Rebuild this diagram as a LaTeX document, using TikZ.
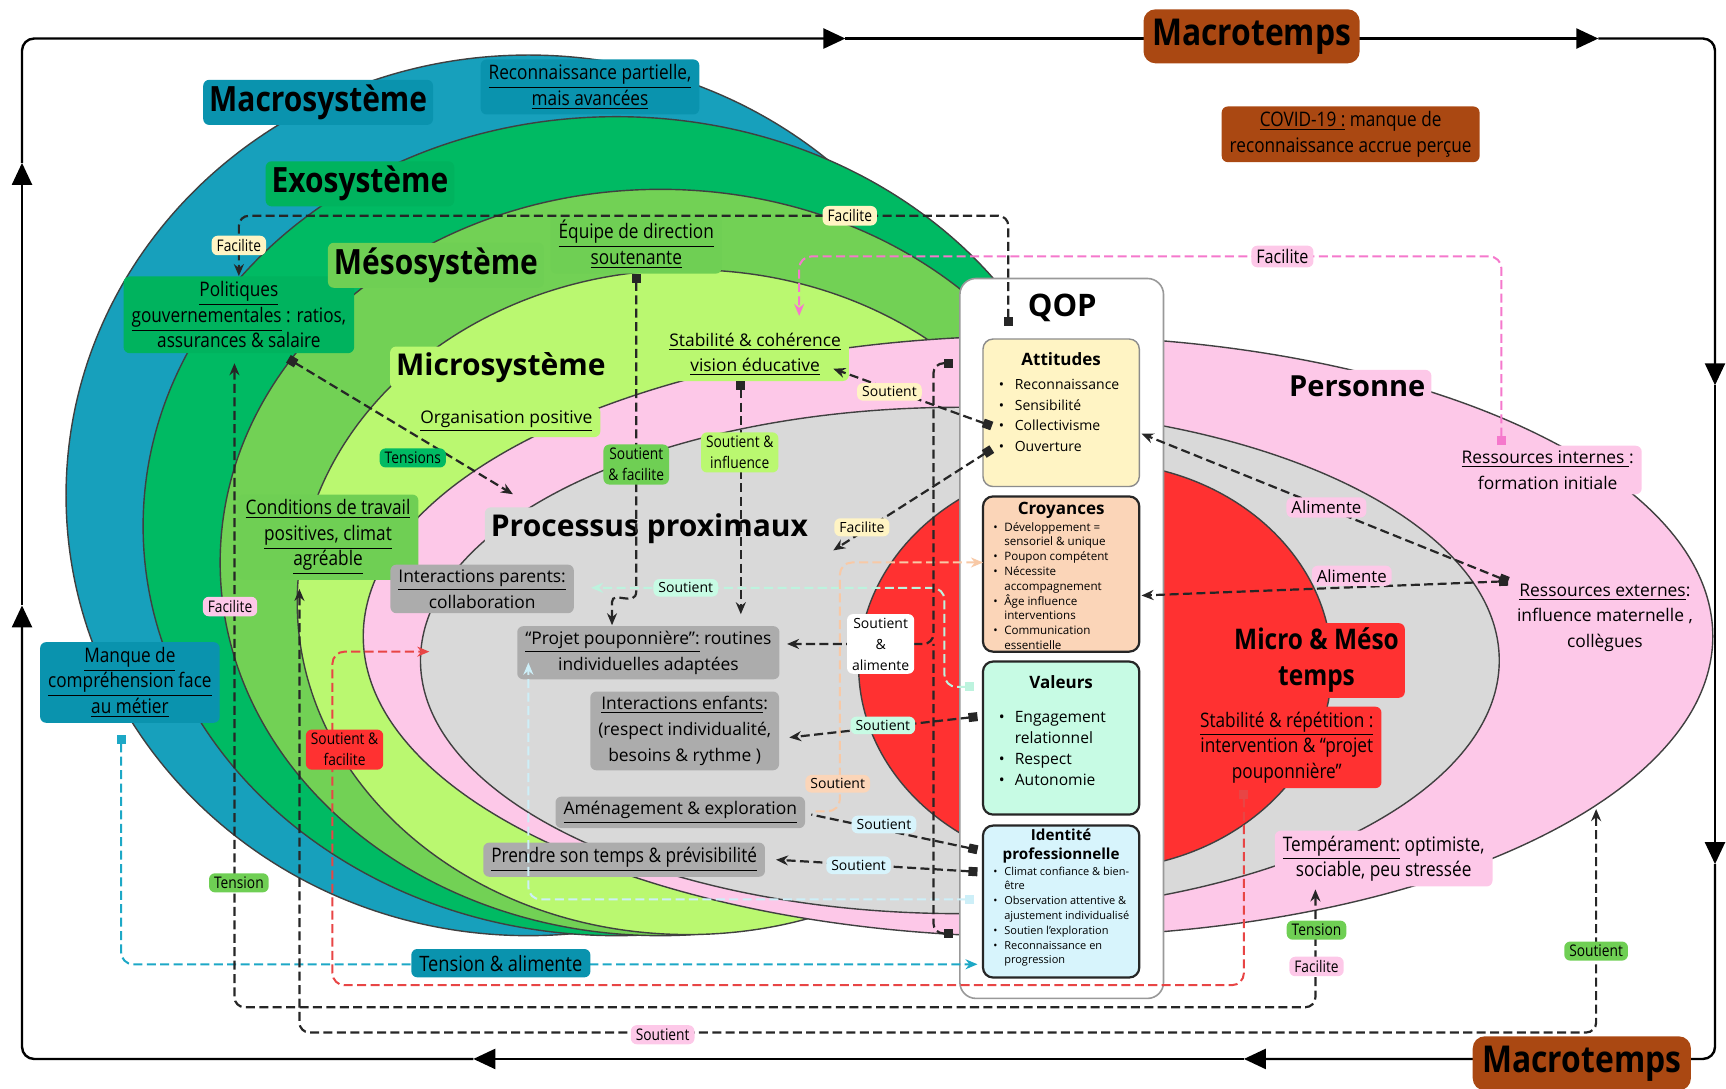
\documentclass[tikz,border=0pt]{standalone}
\usepackage{fontspec}
\setmainfont{Open Sans}
\newfontfamily\condf[FakeStretch=0.86]{Open Sans}
\usetikzlibrary{arrows.meta}
\definecolor{tealR}{HTML}{17A0BC}
\definecolor{tealD}{HTML}{0A93AE}
\definecolor{tealLn}{HTML}{1DA8C6}
\definecolor{exoG}{HTML}{00BA63}
\definecolor{exoL}{HTML}{00B35E}
\definecolor{mesoG}{HTML}{72D155}
\definecolor{mesoL}{HTML}{6FCF54}
\definecolor{limeG}{HTML}{BAF870}
\definecolor{pinkP}{HTML}{FDC8E8}
\definecolor{grayC}{HTML}{D9D9D9}
\definecolor{grayL}{HTML}{ACACAC}
\definecolor{redC}{HTML}{FF3131}
\definecolor{redLn}{HTML}{E84545}
\definecolor{yel}{HTML}{FFF4C4}
\definecolor{peach}{HTML}{FBD5B8}
\definecolor{peachLn}{HTML}{F8C9A6}
\definecolor{mint}{HTML}{C7FBE4}
\definecolor{mintLn}{HTML}{BDF3DE}
\definecolor{lblue}{HTML}{D7F4FC}
\definecolor{lblueLn}{HTML}{CDEFF8}
\definecolor{brownM}{HTML}{AA4812}
\definecolor{pinkH}{HTML}{F578CC}
\newcommand{\myb}[1]{\makebox[#1][l]{\textbullet}}
\newcommand{\myi}[1]{\hspace*{#1}}
\tikzset{
  ring/.style={draw=black!75, line width=0.7pt},
  box/.style={rounded corners=3pt, inner xsep=4pt, inner ysep=2.5pt, align=center, text=black},
  ttl/.style={box, font=\fontsize{15}{18}\selectfont\bfseries, inner xsep=3pt, inner ysep=3pt},
  ttlc/.style={box, font=\condf\fontsize{17.4}{20}\selectfont\bfseries, inner xsep=3pt, inner ysep=2.5pt},
  med/.style={box, font=\fontsize{8.7}{12.8}\selectfont},
  medc/.style={box, font=\condf\fontsize{10}{12.8}\selectfont},
  sml/.style={box, font=\fontsize{7}{10.5}\selectfont, inner xsep=2.5pt, inner ysep=1.8pt},
  smlc/.style={box, font=\condf\fontsize{8}{10.5}\selectfont, inner xsep=2.5pt, inner ysep=1.8pt},
  frame/.style={draw=black, line width=1.2pt, rounded corners=6pt, -{Triangle[length=11pt,width=10pt]}},
  conn/.style={draw=black!85, line width=1.1pt, dash pattern=on 4.5pt off 2.2pt, rounded corners=5pt},
  pale/.style={line width=1pt, dash pattern=on 4.5pt off 2.2pt, rounded corners=6pt},
  sqar/.style={arrows={Square[length=4.5pt,width=4.5pt]-Stealth[length=6pt,width=5pt]}},
  sqonly/.style={arrows={Square[length=4.5pt,width=4.5pt]-}},
  arar/.style={arrows={Stealth[length=6pt,width=5pt]-Stealth[length=6pt,width=5pt]}},
  onlyar/.style={arrows={-Stealth[length=6pt,width=5pt]}},
  qbox/.style={draw=black!85, line width=1.1pt, rounded corners=5pt, minimum width=78.1pt, inner sep=0pt},
  qttl/.style={font=\fontsize{8.5}{10}\selectfont\bfseries, inner sep=0pt},
  qlist/.style={anchor=north west, inner sep=0pt, align=left}
}
\begin{document}
\begin{tikzpicture}[x=0.55pt,y=-0.55pt]
\useasboundingbox (0,0) rectangle (1568,989);
% ---------- nested spheres
\filldraw[ring, fill=tealR] (480,450) ellipse [x radius=420, y radius=400];
\filldraw[ring, fill=exoG] (560,478) ellipse [x radius=430, y radius=372];
\filldraw[ring, fill=mesoG] (600,511) ellipse [x radius=400, y radius=339];
\filldraw[ring, fill=limeG] (625,547) ellipse [x radius=355, y radius=302];
\filldraw[ring, fill=pinkP] (943,578) ellipse [x radius=613, y radius=273];
\filldraw[ring, fill=grayC] (872,600) ellipse [x radius=490, y radius=230];
\filldraw[ring, fill=redC] (995,605) ellipse [x radius=215, y radius=185];
% ---------- time frame
\draw[frame] (430,962) -- (20,962) -- (20,550);
\draw[frame] (20,550) -- (20,148);
\draw[frame] (20,148) -- (20,35) -- (768,35);
\draw[frame] (768,35) -- (1452,35);
\draw[frame] (1452,35) -- (1558,35) -- (1558,350);
\draw[frame] (1558,350) -- (1558,785);
\draw[frame] (1558,785) -- (1558,962) -- (1130,962);
\draw[frame] (1130,962) -- (430,962);
\node[ttlc, fill=brownM, font=\condf\fontsize{18.5}{20}\selectfont\bfseries, minimum width=108pt, minimum height=27pt, rounded corners=6pt] (mtop) at (1137,33) {Macrotemps};
\node[ttlc, fill=brownM, font=\condf\fontsize{18.5}{20}\selectfont\bfseries, minimum width=109pt, minimum height=27pt, rounded corners=6pt] (mbot) at (1437,966) {Macrotemps};
% ---------- QOP
\node[draw=black!40, fill=white, rounded corners=8pt, line width=0.8pt, minimum width=101.75pt, minimum height=359.7pt] (qop) at (964.5,580) {};
\node[font=\fontsize{15.5}{18}\selectfont\bfseries] (qopt) at (965,280) {QOP};
\node[qbox, draw=black!45, line width=0.7pt, fill=yel, minimum height=73.7pt] (att) at (964,375) {};
\node[qbox, fill=peach, minimum height=77.55pt] (cro) at (964,521.5) {};
\node[qbox, fill=mint, minimum height=76.45pt] (val) at (964,670.5) {};
\node[qbox, fill=lblue, minimum height=75.9pt] (idp) at (964,819) {};
\node[qttl] (attT) at (964,326) {Attitudes};
\node[qttl] (croT) at (964,464) {Croyances};
\node[qttl] (valT) at (964,620) {Valeurs};
\node[qttl, font=\fontsize{7.6}{9.3}\selectfont\bfseries, align=center] (idpT) at (964,768.5) {Identité\\professionnelle};
\node[qlist, font=\fontsize{7}{10.4}\selectfont] (attL) at (907,344) {\myb{8pt}Reconnaissance\\\myb{8pt}Sensibilité\\\myb{8pt}Collectivisme\\\myb{8pt}Ouverture};
\node[qlist, font=\fontsize{5.8}{7.4}\selectfont] (croL) at (902,474) {\myb{5.5pt}Développement =\\\myi{5.5pt}sensoriel \& unique\\\myb{5.5pt}Poupon compétent\\\myb{5.5pt}Nécessite\\\myi{5.5pt}accompagnement\\\myb{5.5pt}Âge influence\\\myi{5.5pt}interventions\\\myb{5.5pt}Communication\\\myi{5.5pt}essentielle};
\node[qlist, font=\fontsize{7.8}{10.5}\selectfont] (valL) at (907,646) {\myb{8pt}Engagement\\\myi{8pt}relationnel\\\myb{8pt}Respect\\\myb{8pt}Autonomie};
\node[qlist, font=\fontsize{5.5}{7.4}\selectfont] (idpL) at (902,787) {\myb{5.5pt}Climat confiance \& bien-\\\myi{5.5pt}être\\\myb{5.5pt}Observation attentive \&\\\myi{5.5pt}ajustement individualisé\\\myb{5.5pt}Soutien l'exploration\\\myb{5.5pt}Reconnaissance en\\\myi{5.5pt}progression};
% ---------- main labels
\node[ttlc, fill=tealD] (macro) at (289,93) {Macrosystème};
\node[medc, fill=tealD] (recon) at (536,79) {\underline{Reconnaissance partielle,}\\\underline{mais avancées}};
\node[ttlc, fill=exoL] (exo) at (327,167) {Exosystème};
\node[medc, fill=exoL] (polit) at (217,286) {\underline{Politiques}\\\underline{gouvernementales} : ratios,\\assurances \& salaire};
\node[medc, fill=mesoL] (equipe) at (578,222) {\underline{Équipe de direction}\\\underline{soutenante}};
\node[ttlc, fill=mesoL] (meso) at (396,241) {Mésosystème};
\node[ttl, fill=limeG] (micro) at (455,334) {Microsystème};
\node[med, fill=limeG] (stab) at (686,322) {\underline{Stabilité \& cohérence}\\\underline{vision éducative}};
\node[med, fill=limeG] (orga) at (460,383) {\underline{Organisation positive}};
\node[medc, fill=mesoL] (cond) at (298,488) {\underline{Conditions de travail}\\\underline{positives, climat}\\\underline{agréable}};
\node[ttl, fill=grayC, font=\fontsize{15}{17}\selectfont\bfseries] (proc) at (590,480) {Processus proximaux};
\node[med, fill=grayL] (interp) at (438,535) {\underline{Interactions parents:}\\collaboration};
\node[med, fill=grayL] (projet) at (589,593) {\underline{“Projet pouponnière”:} routines\\individuelles adaptées};
\node[med, fill=grayL] (intere) at (622,664) {\underline{Interactions enfants}:\\(respect individualité,\\besoins \& rythme )};
\node[med, fill=grayL] (amen) at (618,738) {\underline{Aménagement \& exploration}};
\node[medc, fill=grayL] (prendre) at (567,781) {\underline{Prendre son temps \& prévisibilité}};
\node[medc, fill=tealD] (manque) at (118,620) {\underline{Manque de}\\\underline{compréhension face}\\\underline{au métier}};
\node[medc, fill=brownM] (covid) at (1227,122) {\underline{COVID-19 :} manque de\\reconnaissance accrue perçue};
\node[ttl, fill=pinkP, font=\fontsize{14.5}{17}\selectfont\bfseries] (pers) at (1233,351) {Personne};
\node[med, fill=pinkP] (ressint) at (1406,427) {\underline{Ressources internes }:\\formation initiale};
\node[med, fill=pinkP] (ressext) at (1458,561) {\underline{Ressources externes}:\\influence maternelle ,\\collègues};
\node[ttlc, fill=redC, font=\condf\fontsize{14.2}{18}\selectfont\bfseries] (mmt) at (1196,600) {Micro \& Méso\\temps};
\node[medc, fill=redC] (stabrep) at (1169,679) {\underline{Stabilité \& répétition :}\\intervention \& “projet\\pouponnière”};
\node[medc, fill=pinkP] (temper) at (1257,780) {\underline{Tempérament:} optimiste,\\sociable, peu stressée};
% ---------- connector end points
\coordinate (qA) at (916,296);
\coordinate (qB) at (901,387);
\coordinate (qC) at (901,408);
\coordinate (qD) at (866,330);
\coordinate (qE) at (866,848);
\coordinate (qF) at (885,624);
\coordinate (qG) at (888,651);
\coordinate (qH) at (888,772);
\coordinate (qI) at (888,792);
\coordinate (qJ) at (885,817);
\coordinate (qK) at (893,511);
\coordinate (qL) at (888,876);
\coordinate (qM) at (1037,394);
\coordinate (qN) at (1037,541);
\coordinate (polS) at (262,326);
\coordinate (procA) at (466,449);
\coordinate (projA) at (556,568);
\coordinate (projB) at (673,558);
\coordinate (stabA) at (757,335);
\coordinate (procB) at (757,500);
\coordinate (projC) at (715,585);
\coordinate (interA) at (537,534);
\coordinate (projD) at (480,602);
\coordinate (inteA) at (717,670);
\coordinate (amenA) at (737,740);
\coordinate (amenB) at (741,737);
\coordinate (prenA) at (705,781);
\coordinate (pinkA) at (390,592);
\coordinate (mmtA) at (1130,718);
\coordinate (polA) at (213,330);
\coordinate (tempA) at (1195,808);
\coordinate (condA) at (272,535);
\coordinate (persA) at (1450,735);
\coordinate (riA) at (1364,404);
\coordinate (stabB) at (726,287);
\coordinate (reA) at (1370,528);
\coordinate (manA) at (110,668);
% ---------- pale connectors
\draw[pale, draw=tealLn, arrows={Square[length=4.5pt,width=4.5pt]-Stealth[length=6pt,width=5pt]}] (manA) |- (qL);
\draw[pale, draw=redLn, arrows={Square[length=4.5pt,width=4.5pt]-Stealth[length=6pt,width=5pt]}] (mmtA) |- (302,895) -- (302,592) -- (pinkA);
\draw[pale, draw=pinkH, sqar] (riA) |- (726,233) -- (stabB);
\draw[pale, draw=mintLn, sqar] (qF) -- (858,624) -- (858,534) -- (interA);
\draw[pale, draw=lblueLn, sqar] (qJ) -- (480,817) -- (projD);
\draw[pale, draw=peachLn, onlyar] (amenB) -| (763,511) -- (qK);
% ---------- black connectors
\draw[conn, sqar] (qA) |- (217,196) -- (polit.north);
\draw[conn, sqar] (polS) -- (procA);
\draw[conn, sqar] (equipe.south) -- (578,528) .. controls (578,552) and (556,536) .. (556,556) -- (projA);
\draw[conn, sqar] (stab.south -| projB) -- (projB);
\draw[conn, sqar] (qB) -- (stabA);
\draw[conn, sqar] (qC) -- (procB);
\draw[conn, sqar] (qD) -- (848,330) -- (848,585) -- (projC);
\draw[conn, sqonly] (qE) -- (848,848) -- (848,585);
\draw[conn, sqar] (qG) -- (inteA);
\draw[conn, sqonly] (qH) -- (amenA);
\draw[conn, sqar] (qI) -- (prenA);
\draw[conn, arar] (polA) |- (1195,915) -- (tempA);
\draw[conn, arar] (condA) |- (1450,938) -- (persA);
\draw[conn, sqar] (reA) -- (qM);
\draw[conn, sqar] (reA) -- (qN);
% ---------- connector labels
\node[smlc, fill=yel] (fa1) at (772,196) {Facilite};
\node[smlc, fill=yel] (fa2) at (217,223) {Facilite};
\node[smlc, fill=exoG] (tens) at (375,416) {Tensions};
\node[smlc, fill=mesoL] (sf) at (578,422) {Soutient\\\& facilite};
\node[smlc, fill=limeG] (si) at (672,411) {Soutient \&\\influence};
\node[sml, fill=yel] (so1) at (808,356) {Soutient};
\node[sml, fill=yel] (fa3) at (783,479) {Facilite};
\node[sml, fill=white] (sa) at (800,585) {Soutient\\\&\\alimente};
\node[sml, fill=mint] (so2) at (802,659) {Soutient};
\node[sml, fill=lblue] (so3) at (803,749) {Soutient};
\node[sml, fill=lblue] (so4) at (780,786) {Soutient};
\node[sml, fill=mint] (so5) at (623,534) {Soutient};
\node[sml, fill=peach] (so6) at (761,712) {Soutient};
\node[smlc, fill=redC] (sfr) at (313,681) {Soutient \&\\facilite};
\node[smlc, fill=pinkP] (fa4) at (209,551) {Facilite};
\node[smlc, fill=mesoL] (ten1) at (217,802) {Tension};
\node[box, fill=tealD, font=\condf\fontsize{10.6}{12}\selectfont, inner ysep=3pt] (ta) at (455,875) {Tension \& alimente};
\node[smlc, fill=pinkP] (so7) at (602,940) {Soutient};
\node[smlc, fill=mesoL] (ten2) at (1196,845) {Tension};
\node[smlc, fill=pinkP] (fa5) at (1196,878) {Facilite};
\node[smlc, fill=mesoL] (so8) at (1450,864) {Soutient};
\node[smlc, fill=pinkP, font=\condf\fontsize{9.4}{10}\selectfont] (fa6) at (1165,233) {Facilite};
\node[sml, fill=pinkP, font=\fontsize{8.4}{10}\selectfont] (al1) at (1205,461) {Alimente};
\node[sml, fill=pinkP, font=\fontsize{8.4}{10}\selectfont] (al2) at (1228,523) {Alimente};
\end{tikzpicture}
\end{document}
